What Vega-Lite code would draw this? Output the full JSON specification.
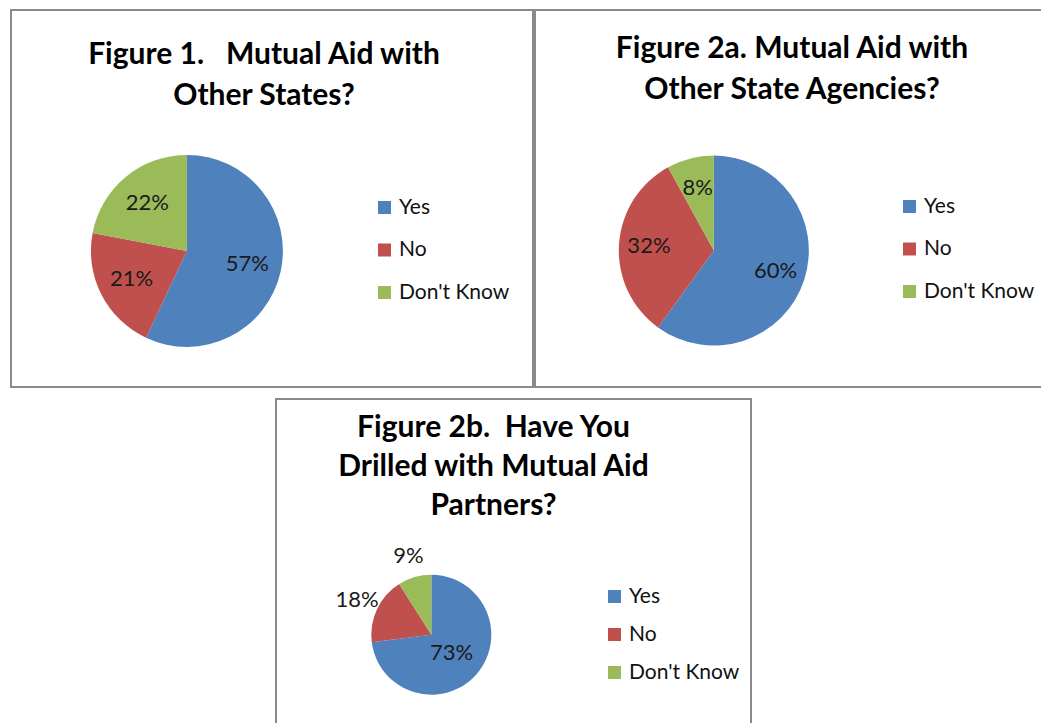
{
  "$schema": "https://vega.github.io/schema/vega-lite/v6.json",
  "background": "white",
  "padding": {"left": 10, "top": 9, "right": 0, "bottom": 0},
  "datasets": {
    "fig1": [
      {"answer": "Yes", "pct": 0.57},
      {"answer": "No", "pct": 0.21},
      {"answer": "Don't Know", "pct": 0.22}
    ],
    "fig2a": [
      {"answer": "Yes", "pct": 0.60},
      {"answer": "No", "pct": 0.32},
      {"answer": "Don't Know", "pct": 0.08}
    ],
    "fig2b": [
      {"answer": "Yes", "pct": 0.73},
      {"answer": "No", "pct": 0.18},
      {"answer": "Don't Know", "pct": 0.09}
    ]
  },
  "config": {
    "view": {"stroke": "#8a8a8a", "strokeWidth": 2},
    "font": "Lato",
    "title": {"font": "Lato", "fontWeight": "bold", "fontSize": 30, "color": "#000000", "anchor": "middle", "lineHeight": 41},
    "legend": {
      "orient": "none", "title": null, "symbolType": "square", "symbolSize": 169,
      "symbolStrokeWidth": 0, "labelFont": "Lato", "labelFontSize": 21, "labelColor": "#111111",
      "labelOffset": 4, "rowPadding": 20.5, "padding": 0
    }
  },
  "vconcat": [
    {
      "hconcat": [
        {
          "width": 522, "height": 377,
          "data": {"name": "fig1"},
          "title": {"text": ["Figure 1.\u00a0\u00a0 Mutual Aid with", "Other States?"], "offset": -101, "dx": -8},
          "encoding": {
            "theta": {"field": "pct", "type": "quantitative", "stack": true},
            "order": {"field": "answer", "sort": "descending"},
            "x": {"datum": 0.337, "type": "quantitative", "scale": {"domain": [0, 1]}, "axis": null},
            "y": {"datum": 0.639, "type": "quantitative", "scale": {"domain": [0, 1], "reverse": true}, "axis": null},
            "color": {"field": "answer", "type": "nominal",
              "scale": {"domain": ["Yes", "No", "Don't Know"], "range": ["#4F81BD", "#C0504D", "#9BBB59"]},
              "legend": {"legendX": 363, "legendY": 187}}
          },
          "layer": [
            {"mark": {"type": "arc", "outerRadius": 96}},
            {"mark": {"type": "text", "radius": 62, "fontSize": 22, "color": "#1a1a1a"},
             "encoding": {"text": {"field": "pct", "type": "quantitative", "format": ".0%"}, "color": {"value": "#1a1a1a"}}}
          ]
        },
        {
          "width": 508, "height": 377,
          "data": {"name": "fig2a"},
          "title": {"text": ["Figure 2a. Mutual Aid with", "Other State Agencies?"], "offset": -95, "dx": 3},
          "encoding": {
            "theta": {"field": "pct", "type": "quantitative", "stack": true},
            "order": {"field": "answer", "sort": "descending"},
            "x": {"datum": 0.352, "type": "quantitative", "scale": {"domain": [0, 1]}, "axis": null},
            "y": {"datum": 0.638, "type": "quantitative", "scale": {"domain": [0, 1], "reverse": true}, "axis": null},
            "color": {"field": "answer", "type": "nominal",
              "scale": {"domain": ["Yes", "No", "Don't Know"], "range": ["#4F81BD", "#C0504D", "#9BBB59"]},
              "legend": {"legendX": 364, "legendY": 186}}
          },
          "layer": [
            {"mark": {"type": "arc", "outerRadius": 95}},
            {"mark": {"type": "text", "radius": 65, "fontSize": 22, "color": "#1a1a1a"},
             "encoding": {"text": {"field": "pct", "type": "quantitative", "format": ".0%"}, "color": {"value": "#1a1a1a"}}}
          ]
        }
      ],
      "spacing": 0,
      "resolve": {"scale": {"color": "independent", "theta": "independent", "x": "independent", "y": "independent"}, "legend": {"color": "independent"}}
    },
    {
      "hconcat": [
        {
          "width": 264, "height": 326,
          "data": {"values": []},
          "mark": "point",
          "view": {"stroke": null}
        },
        {
          "width": 475, "height": 326,
          "data": {"name": "fig2b"},
          "title": {"text": ["Figure 2b.\u00a0 Have You", "Drilled with Mutual Aid", "Partners?"], "offset": -122, "dx": -20, "lineHeight": 39},
          "encoding": {
            "theta": {"field": "pct", "type": "quantitative", "stack": true},
            "order": {"field": "answer", "sort": "descending"},
            "x": {"datum": 0.327, "type": "quantitative", "scale": {"domain": [0, 1]}, "axis": null},
            "y": {"datum": 0.723, "type": "quantitative", "scale": {"domain": [0, 1], "reverse": true}, "axis": null},
            "color": {"field": "answer", "type": "nominal",
              "scale": {"domain": ["Yes", "No", "Don't Know"], "range": ["#4F81BD", "#C0504D", "#9BBB59"]},
              "legend": {"legendX": 328, "legendY": 187, "rowPadding": 16}}
          },
          "layer": [
            {"mark": {"type": "arc", "outerRadius": 60}},
            {"mark": {"type": "text", "radius": 27, "fontSize": 22, "color": "#1a1a1a"},
             "encoding": {
               "text": {"condition": {"test": "datum.answer !== 'Yes'", "value": ""}, "field": "pct", "type": "quantitative", "format": ".0%"},
               "color": {"value": "#1a1a1a"}
             }},
            {"mark": {"type": "text", "radius": 82, "fontSize": 22, "color": "#1a1a1a"},
             "encoding": {
               "text": {"condition": {"test": "datum.answer === 'Yes'", "value": ""}, "field": "pct", "type": "quantitative", "format": ".0%"},
               "color": {"value": "#1a1a1a"}
             }}
          ]
        }
      ],
      "spacing": 0,
      "resolve": {"scale": {"color": "independent", "theta": "independent", "x": "independent", "y": "independent"}, "legend": {"color": "independent"}}
    }
  ],
  "spacing": 10,
  "resolve": {"scale": {"color": "independent", "theta": "independent", "x": "independent", "y": "independent"}, "legend": {"color": "independent"}}
}
